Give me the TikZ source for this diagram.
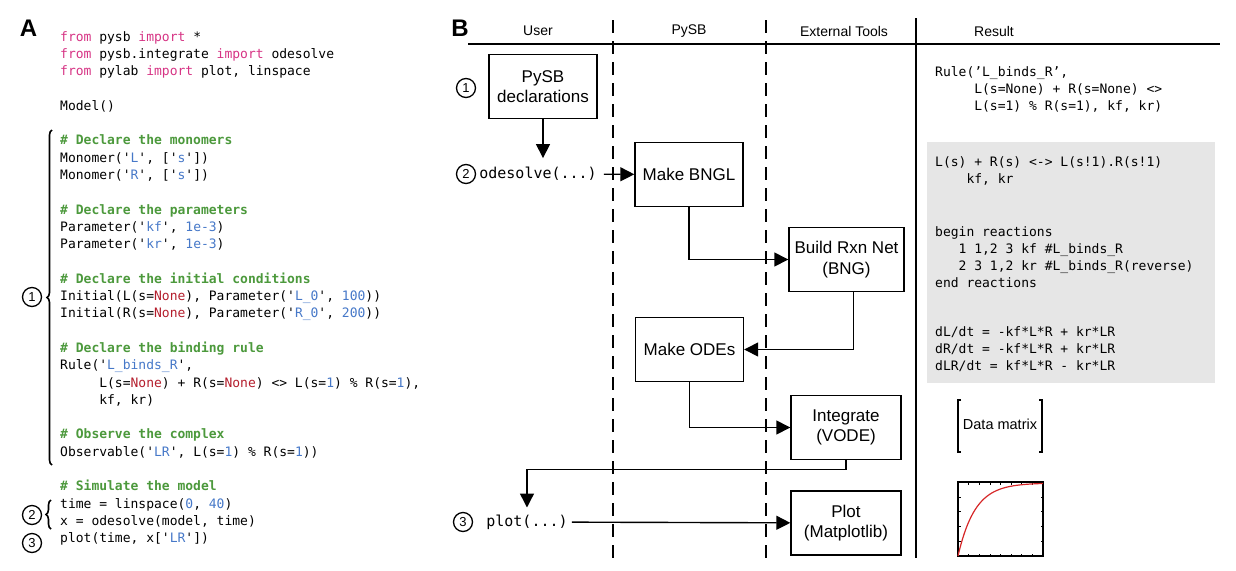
\documentclass[tikz,border=0pt]{standalone}
\usepackage{fontspec}
\setmainfont{Liberation Sans}
\setmonofont{DejaVu Sans Mono}
\usetikzlibrary{positioning,arrows.meta,decorations.pathreplacing}

\definecolor{kwpink}{HTML}{D63384}
\definecolor{cmgreen}{HTML}{4C993C}
\definecolor{strblue}{HTML}{4678C8}
\definecolor{nonered}{HTML}{B41E2D}
\definecolor{resgray}{HTML}{E6E6E6}
\definecolor{curvered}{HTML}{D62728}

\newcommand{\pykw}[1]{\textcolor{kwpink}{#1}}
\newcommand{\pycm}[1]{\textcolor{cmgreen}{\bfseries #1}}
\newcommand{\pystr}[1]{\textcolor{strblue}{#1}}
\newcommand{\pynone}[1]{\textcolor{nonered}{#1}}
\newcommand{\ind}[1]{\hphantom{#1}}

\begin{document}
\begin{tikzpicture}[x=1pt,y=-1pt,
    code/.style={anchor=base west, inner sep=0pt, align=left, font=\ttfamily\fontsize{13}{17.3}\selectfont},
    stepbox/.style={draw, line width=1.4pt, minimum width=108pt, minimum height=64pt, align=center, font=\fontsize{17}{20.5}\selectfont},
    num/.style={draw, circle, line width=1.3pt, minimum size=19pt, inner sep=0pt, font=\fontsize{13}{13}\selectfont},
    head/.style={font=\fontsize{14}{14}\selectfont},
    panel/.style={anchor=base, font=\bfseries\fontsize{24}{24}\selectfont},
    call/.style={inner sep=2pt, font=\ttfamily\fontsize{15}{15}\selectfont},
    flow/.style={line width=1.4pt, -{Triangle[length=14pt,width=14pt]}},
    lane/.style={line width=1.8pt, dash pattern=on 13pt off 8pt}]
    \useasboundingbox (0,0) rectangle (1236,570);

    % panel A: the script (a block sits on the baseline of its last line)
    \node[panel] (lblA) at (28.5,36.5) {A};
    \node[code] (imports) at (60,75.6) {\pykw{from} pysb \pykw{import} *\\
        \pykw{from} pysb.integrate \pykw{import} odesolve\\
        \pykw{from} pylab \pykw{import} plot, linspace};
    \node[code] (model) at (60,110.2) {Model()};
    \node[code] (monomers) at (60,179.4) {\pycm{\# Declare the monomers}\\
        Monomer('\pystr{L}', ['\pystr{s}'])\\
        Monomer('\pystr{R}', ['\pystr{s}'])};
    \node[code] (params) at (60,248.6) {\pycm{\# Declare the parameters}\\
        Parameter('\pystr{kf}', \pystr{1e-3})\\
        Parameter('\pystr{kr}', \pystr{1e-3})};
    \node[code] (inits) at (60,317.8) {\pycm{\# Declare the initial conditions}\\
        Initial(L(s=\pynone{None}), Parameter('\pystr{L\_0}', \pystr{100}))\\
        Initial(R(s=\pynone{None}), Parameter('\pystr{R\_0}', \pystr{200}))};
    \node[code] (rule) at (60,404.3) {\pycm{\# Declare the binding rule}\\
        Rule('\pystr{L\_binds\_R}',\\
        \ind{xxxxx}L(s=\pynone{None}) + R(s=\pynone{None}) <> L(s=\pystr{1}) \% R(s=\pystr{1}),\\
        \ind{xxxxx}kf, kr)};
    \node[code] (observe) at (60,456.2) {\pycm{\# Observe the complex}\\
        Observable('\pystr{LR}', L(s=\pystr{1}) \% R(s=\pystr{1}))};
    \node[code] (simulate) at (60,542.7) {\pycm{\# Simulate the model}\\
        time = linspace(\pystr{0}, \pystr{40})\\
        x = odesolve(model, time)\\
        plot(time, x['\pystr{LR}'])};

    \draw[decorate, decoration={brace, amplitude=5pt, mirror}, line width=1.6pt] (52,130) -- (52,465);
    \draw[decorate, decoration={brace, amplitude=5pt, mirror}, line width=1.6pt] (51,500) -- (51,529);
    \node[num] (n1a) at (32,297) {1};
    \node[num] (n2a) at (32,515) {2};
    \node[num] (n3a) at (32,543) {3};

    % panel B: lanes
    \node[panel] (lblB) at (460,36.5) {B};
    \node[head] (hUser) at (538,31) {User};
    \node[head] (hPysb) at (689,31) {PySB};
    \node[head] (hExt) at (844,31) {External Tools};
    \node[head] (hRes) at (994,31) {Result};
    \draw[line width=1.8pt] (468,44) -- (1220,44);
    \draw[lane] (613,20) -- (613,562);
    \draw[lane] (766,20) -- (766,562);
    \draw[line width=1.8pt] (916,18) -- (916,558);

    % panel B: steps
    \node[stepbox] (decl) at (543,86.5) {PySB\\declarations};
    \node[stepbox] (bngl) at (689,174.5) {Make BNGL};
    \node[stepbox, minimum width=115pt] (build) at (846.5,259.5) {Build Rxn Net\\(BNG)};
    \node[stepbox] (odes) at (689.5,349.5) {Make ODEs};
    \node[stepbox, minimum width=110pt] (integ) at (846,427.5) {Integrate\\(VODE)};
    \node[stepbox, minimum width=110pt] (plotbox) at (846,523) {Plot\\(Matplotlib)};

    \node[num] (n1b) at (466,88) {1};
    \node[num] (n2b) at (466,174) {2};
    \node[num] (n3b) at (463,522) {3};
    \node[call, right=1pt of n2b] (ode) {odesolve(...)};
    \node[call, right=11pt of n3b] (plotcall) {plot(...)};

    \draw[flow, shorten >=7pt] (decl) -- (decl |- ode.north);
    \draw[flow, shorten <=5pt] (ode) -- (bngl);
    \draw[flow] (bngl) |- (build);
    \draw[flow] ([xshift=7pt]build.south) |- (odes);
    \draw[flow] (odes) |- (integ);
    \draw[flow, shorten >=5pt] (integ.south) -- ++(0,9) -| (plotcall.north);
    \draw[flow, shorten <=2pt] (plotcall) -- (plotbox);

    % panel B: results
    \node[code] (ruleres) at (935,110.6) {Rule(’L\_binds\_R’,\\
        \ind{xxxxx}L(s=None) + R(s=None) <>\\
        \ind{xxxxx}L(s=1) \% R(s=1), kf, kr)};
    \fill[resgray] (927,142) rectangle (1215,383);
    \node[code] (bngres) at (935,183.3) {L(s) + R(s) <-> L(s!1).R(s!1)\\
        \ind{xxxx}kf, kr};
    \node[code] (rxnres) at (935,287.9) {begin reactions\\
        \ind{xxx}1 1,2 3 kf \#L\_binds\_R\\
        \ind{xxx}2 3 1,2 kr \#L\_binds\_R(reverse)\\
        end reactions};
    \node[code] (oderes) at (935,370.6) {dL/dt = -kf*L*R + kr*LR\\
        dR/dt = -kf*L*R + kr*LR\\
        dLR/dt = kf*L*R - kr*LR};

    \draw[line width=1.2pt] (961,400) -- (958,400) -- (958,452) -- (961,452);
    \draw[line width=1.2pt] (1039,400) -- (1042,400) -- (1042,452) -- (1039,452);
    \node[font=\fontsize{14.5}{14.5}\selectfont] (datamat) at (1000,424) {Data matrix};

    \draw[line width=1.2pt] (958,482) rectangle (1043,556);
    \foreach \t in {1,...,7} {
        \draw[line width=0.5pt] ({958+10.6*\t},556) -- ++(0,-2.5);
        \draw[line width=0.5pt] ({958+10.6*\t},482) -- ++(0,2.5);
    }
    \foreach \t in {1,...,4} {
        \draw[line width=0.5pt] (958,{556-14.8*\t}) -- ++(2.5,0);
        \draw[line width=0.5pt] (1043,{556-14.8*\t}) -- ++(-2.5,0);
    }
    \draw[curvered, line width=1.2pt] plot[domain=0:1, samples=60, smooth] ({958+85*\x}, {556-73*(1-exp(-5*\x))});
\end{tikzpicture}
\end{document}
